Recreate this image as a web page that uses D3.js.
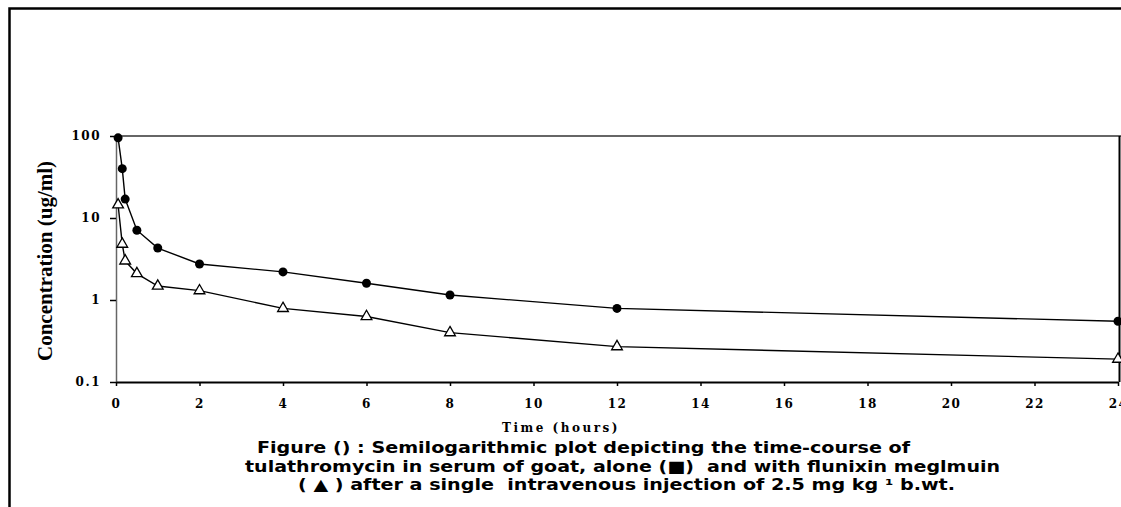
<html>
<script src='https://d3js.org/d3.v7.min.js'></script>
<style>
body {margin:0; background:#fff;}
.tick text {font-family:"DejaVu Serif"; font-weight:bold; font-size:12px; letter-spacing:1.5px; fill:#000;}
.cap {font-family:"DejaVu Sans"; font-weight:bold; font-size:16px; white-space:pre;}
</style>
<body>
<svg width=1121 height=507></svg>
<script>
// time points (hours) and concentrations (ug/ml)
const times = [0.05, 0.15, 0.22, 0.5, 1, 2, 4, 6, 8, 12, 24];
const alone = [95, 40, 17, 7.1, 4.3, 2.75, 2.2, 1.6, 1.15, 0.79, 0.55];
const withFlunixin = [14.5, 4.8, 3.0, 2.1, 1.48, 1.3, 0.79, 0.63, 0.4, 0.27, 0.19];

const xTicks = [0, 2, 4, 6, 8, 10, 12, 14, 16, 18, 20, 22, 24];
const yTicks = [0.1, 1, 10, 100];
const yTickLabels = ["0.1", "1", "10", "100"];

const xTitle = "Time (hours)";
const yTitle = "Concentration (ug/ml)";
const captionLines = [
  "Figure () : Semilogarithmic plot depicting the time-course of",
  "tulathromycin in serum of goat, alone (\u25A0)  and with flunixin meglmuin",
  "( \u25B2 ) after a single  intravenous injection of 2.5 mg kg \u00B9 b.wt."
];

const svg = d3.select("svg");

// outer frame (cropped at right and bottom)
svg.append("rect")
  .attr("x", 9.5).attr("y", 8.5)
  .attr("width", 1200).attr("height", 600)
  .attr("fill", "none").attr("stroke", "#000").attr("stroke-width", 2.5);

var x = d3.scaleLinear().domain([0, 24]).range([116, 1118]);
var y = d3.scaleLog().domain([0.1, 100]).range([382, 136]);

// plot area top and right borders
svg.append("line")
  .attr("x1", x(0)).attr("x2", 1121).attr("y1", y(100)).attr("y2", y(100))
  .attr("stroke", "#666").attr("stroke-width", 2);
svg.append("line")
  .attr("x1", 1119.5).attr("x2", 1119.5).attr("y1", y(100)).attr("y2", y(0.1))
  .attr("stroke", "#000").attr("stroke-width", 2);

var gy = svg.append("g")
  .attr("transform", "translate(" + x(0) + ",0)")
  .call(d3.axisLeft(y).tickValues(yTicks)
    .tickFormat((d, i) => yTickLabels[i])
    .tickSize(6).tickSizeOuter(0).tickPadding(9));
gy.select(".domain").attr("stroke", "#666").attr("stroke-width", 1.5);
gy.selectAll(".tick line").attr("stroke", "#000").attr("stroke-width", 1.5);

var gx = svg.append("g")
  .attr("transform", "translate(0," + y(0.1) + ")")
  .call(d3.axisBottom(x).tickValues(xTicks)
    .tickSize(4).tickSizeOuter(0).tickPadding(13));
gx.select(".domain").attr("stroke", "#000").attr("stroke-width", 2);
gx.selectAll(".tick line").attr("stroke", "#000").attr("stroke-width", 1.5);

// series lines
var line = d3.line()
  .x(d => x(d[0]))
  .y(d => y(d[1]));

svg.append("path")
  .datum(times.map((t, i) => [t, alone[i]]))
  .attr("d", line)
  .attr("fill", "none").attr("stroke", "#000").attr("stroke-width", 1.4);
svg.append("path")
  .datum(times.map((t, i) => [t, withFlunixin[i]]))
  .attr("d", line)
  .attr("fill", "none").attr("stroke", "#000").attr("stroke-width", 1.4);

svg.append("g").selectAll("circle")
  .data(times.map((t, i) => [t, alone[i]]))
  .enter().append("circle")
    .attr("cx", d => x(d[0]))
    .attr("cy", d => y(d[1]))
    .attr("r", 4.5)
    .attr("fill", "#000");

svg.append("g").selectAll("path")
  .data(times.map((t, i) => [t, withFlunixin[i]]))
  .enter().append("path")
    .attr("d", d3.symbol(d3.symbolTriangle, 50))
    .attr("transform", d => "translate(" + x(d[0]) + "," + y(d[1]) + ")")
    .attr("fill", "#fff").attr("stroke", "#000").attr("stroke-width", 1.3);

// axis titles
svg.append("text")
  .attr("x", 561).attr("y", 432)
  .attr("text-anchor", "middle")
  .style("font-family", "DejaVu Serif").style("font-weight", "bold")
  .style("font-size", "12px").style("letter-spacing", "2.5px")
  .text(xTitle);

svg.append("text")
  .attr("transform", "translate(52,261) rotate(-90)")
  .attr("text-anchor", "middle")
  .style("font-family", "Liberation Serif").style("font-weight", "bold")
  .style("font-size", "21px")
  .text(yTitle);

// caption
var capX = [257, 245, 298];
var capY = [453, 472, 490];
var capW = [653, 755, 657];
svg.selectAll("text.cap")
  .data(captionLines)
  .enter().append("text")
    .attr("class", "cap")
    .attr("x", (d, i) => capX[i])
    .attr("y", (d, i) => capY[i])
    .attr("textLength", (d, i) => capW[i])
    .attr("lengthAdjust", "spacingAndGlyphs")
    .text(d => d);
</script>
</body>
</html>
